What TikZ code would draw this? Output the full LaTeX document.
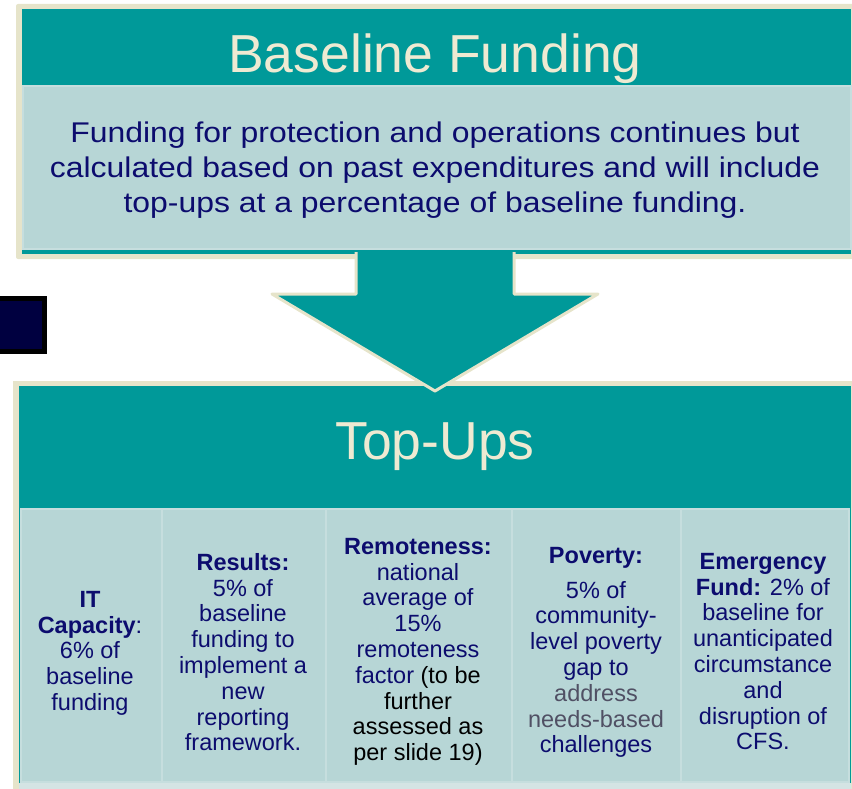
\documentclass[tikz,border=0pt]{standalone}
\usepackage{fontspec}
\setmainfont{Liberation Sans}
\usetikzlibrary{calc}

\definecolor{fundteal}{RGB}{0,153,153}
\definecolor{fundpale}{RGB}{183,214,214}
\definecolor{fundedge}{RGB}{198,222,222}
\definecolor{fundstrip}{RGB}{212,228,228}
\definecolor{fundcream}{RGB}{230,228,202}
\definecolor{fundtitle}{RGB}{238,234,210}
\definecolor{fundnavy}{RGB}{12,12,110}
\definecolor{fundgrey}{RGB}{80,80,100}
\definecolor{fundsquare}{RGB}{0,0,64}

\tikzset{
  panel/.style={fill=fundpale, draw=fundedge, line width=2.5pt},
  headtext/.style={text=fundtitle, anchor=base, inner sep=0pt, font=\fontsize{53.5}{60}\selectfont},
  coltext/.style={text=fundnavy, align=center, anchor=north, inner sep=0pt, font=\fontsize{23.5}{25.8}\selectfont},
}

\begin{document}
\begin{tikzpicture}[x=1pt, y=-1pt]
            \useasboundingbox (0,0) rectangle (852,789);
            \fill[fundcream, rounded corners=2pt] (16,4) rectangle (856,259);
            \fill[fundteal] (22,9) rectangle (851,254);
            \draw[panel] (23,86) rectangle (851,249);
            \node[headtext] (basehead) at (435,73) {Baseline Funding};
            \node[coltext, font=\fontsize{28.5}{35}\selectfont\addfontfeature{FakeStretch=1.12}] (basebody) at (435,122)
                {Funding for protection and operations continues but\\
                 calculated based on past expenditures and will include\\
                 top-ups at a percentage of baseline funding.};
            \fill[fundcream] (13,381) rectangle (856,795);
            \fill[fundteal] (19,386) rectangle (851,795);
            \fill[fundstrip] (19,783) rectangle (851,795);
            \foreach \xa/\xb in {21/162, 162/326, 326/512, 512/681, 681/849}
                \draw[panel] (\xa,509) rectangle (\xb,782);
            \node[headtext] (topupshead) at (435,459) {Top-Ups};
            \node[coltext] (itcap) at (90,591)
                {\textbf{IT}\\\textbf{Capacity}:\\6\% of\\baseline\\funding};
            \node[coltext] (results) at (243,553)
                {\textbf{Results:}\\5\% of\\baseline\\funding to\\implement a\\new\\reporting\\framework.};
            \node[coltext] (remote) at (418,538)
                {\textbf{Remoteness:}\\national\\average of\\15\%\\remoteness\\
                 factor \textcolor{black}{(to be}\\\textcolor{black}{further}\\
                 \textcolor{black}{assessed as}\\\textcolor{black}{per slide 19)}};
            \node[coltext] (poverty) at (596,547)
                {\textbf{Poverty:}\\[9pt]5\% of\\community-\\level poverty\\gap to\\
                 \textcolor{fundgrey}{address}\\\textcolor{fundgrey}{needs-based}\\challenges};
            \node[coltext] (emergency) at (763,553)
                {\textbf{Emergency}\\\textbf{Fund:} 2\% of\\baseline for\\unanticipated\\
                 circumstance\\and\\disruption of\\CFS.};
            \coordinate (shafttop) at (435,252);
            \coordinate (arrowtip) at (435,391);
            \filldraw[fill=fundteal, draw=fundcream, line width=3pt, line join=round]
                ($(shafttop)+(-79,0)$) -- ($(shafttop)+(-79,42)$) -- ($(shafttop)+(-163,42)$)
                -- (arrowtip) -- ($(shafttop)+(163,42)$) -- ($(shafttop)+(79,42)$)
                -- ($(shafttop)+(79,0)$);
            \draw[line width=5pt, fill=fundsquare] (-5,298.5) rectangle (44.5,351.5);
        \end{tikzpicture}
\end{document}
